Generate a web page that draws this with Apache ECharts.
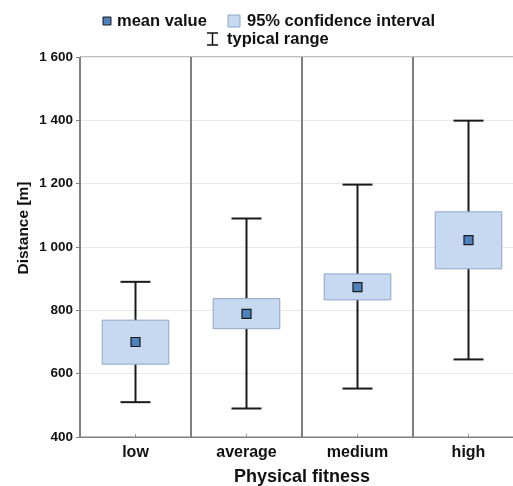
<!DOCTYPE html>
<html>
<head>
<meta charset="utf-8">
<script src="https://cdn.jsdelivr.net/npm/echarts@6/dist/echarts.min.js"></script>
<style>
html,body{margin:0;padding:0;background:#fff;}
#chart{width:513px;height:486px;}
</style>
</head>
<body>
<div id="chart"></div>
<script>
const categories = ['low', 'average', 'medium', 'high'];
const meanValues = [700, 789, 873, 1022];
const ciLow = [630, 742, 833, 931];
const ciHigh = [769, 837, 915, 1111];
const rangeLow = [510, 490, 553, 645];
const rangeHigh = [890, 1090, 1197, 1399];
const yTicks = [400, 600, 800, 1000, 1200, 1400, 1600];

const FONT = '"Liberation Sans", Arial, sans-serif';
const chart = echarts.init(document.getElementById('chart'));

const whiskerData = categories.map((c, i) => [i, rangeLow[i], rangeHigh[i]]);
const boxData = categories.map((c, i) => [i, ciLow[i], ciHigh[i]]);
const meanData = categories.map((c, i) => [i, meanValues[i]]);

function fmt(v) {
  return String(v).replace(/\B(?=(\d{3})+(?!\d))/g, ' ');
}

const option = {
  backgroundColor: '#fff',
  animation: false,
  grid: {
    left: 80, top: 57, width: 444, height: 380,
    outerBoundsMode: 'none',
    containLabel: false,
    show: true, borderColor: '#808080', borderWidth: 1, backgroundColor: 'transparent'
  },
  xAxis: {
    type: 'category',
    data: categories,
    name: 'Physical fitness',
    nameLocation: 'middle',
    nameGap: 31,
    nameMoveOverlap: false,
    nameTextStyle: { fontFamily: FONT, fontWeight: 'bold', fontSize: 18, color: '#111' },
    axisLine: { show: true, lineStyle: { color: '#808080', width: 1 } },
    axisTick: { show: true, alignWithLabel: true, inside: true, length: 3, lineStyle: { color: '#999' } },
    axisLabel: { fontFamily: FONT, fontWeight: 'bold', fontSize: 16, color: '#111', margin: 8 },
    splitLine: { show: true, interval: 0, lineStyle: { color: '#808080', width: 2 } }
  },
  yAxis: {
    type: 'value',
    min: 400, max: 1600, interval: 200,
    name: 'Distance [m]',
    nameLocation: 'middle',
    nameGap: 48,
    nameMoveOverlap: false,
    nameTextStyle: { fontFamily: FONT, fontWeight: 'bold', fontSize: 15.5, color: '#111', padding: [0, 0, 0, 38] },
    axisLine: { show: true, lineStyle: { color: '#808080', width: 1 } },
    axisTick: { show: true, length: 4, lineStyle: { color: '#808080' } },
    axisLabel: {
      fontFamily: FONT, fontWeight: 'bold', fontSize: 13.5, color: '#111', margin: 7,
      formatter: v => (yTicks.indexOf(v) >= 0 ? fmt(v) : '')
    },
    splitLine: { show: true, lineStyle: { color: '#e8e8e8', width: 1 } }
  },
  graphic: [
    { type: 'rect', shape: { x: 103, y: 17, width: 8, height: 8 },
      style: { fill: '#4f81bd', stroke: '#1a1a1a', lineWidth: 1 } },
    { type: 'text', x: 117, y: 21,
      style: { text: 'mean value', font: 'bold 16.5px ' + FONT, fill: '#111', verticalAlign: 'middle' } },
    { type: 'rect', shape: { x: 228, y: 15, width: 12, height: 12 },
      style: { fill: '#c6d9f1', stroke: '#8ea4c8', lineWidth: 1 } },
    { type: 'text', x: 247, y: 21,
      style: { text: '95% confidence interval', font: 'bold 16.5px ' + FONT, fill: '#111', verticalAlign: 'middle' } },
    { type: 'line', shape: { x1: 212.5, y1: 33, x2: 212.5, y2: 45 }, style: { stroke: '#111', lineWidth: 1.5 } },
    { type: 'line', shape: { x1: 207, y1: 33, x2: 218, y2: 33 }, style: { stroke: '#111', lineWidth: 1.5 } },
    { type: 'line', shape: { x1: 207, y1: 45, x2: 218, y2: 45 }, style: { stroke: '#111', lineWidth: 1.5 } },
    { type: 'text', x: 227, y: 39,
      style: { text: 'typical range', font: 'bold 16.5px ' + FONT, fill: '#111', verticalAlign: 'middle' } }
  ],
  series: [
    {
      type: 'custom',
      name: 'typical range',
      data: whiskerData,
      z: 2,
      renderItem: function (params, api) {
        const x = api.value(0);
        const lo = api.coord([x, api.value(1)]);
        const hi = api.coord([x, api.value(2)]);
        const half = api.size([1, 0])[0] * 0.135;
        const st = { stroke: '#1a1a1a', lineWidth: 2 };
        return {
          type: 'group',
          children: [
            { type: 'line', shape: { x1: lo[0], y1: lo[1], x2: hi[0], y2: hi[1] }, style: st },
            { type: 'line', shape: { x1: lo[0] - half, y1: lo[1], x2: lo[0] + half, y2: lo[1] }, style: st },
            { type: 'line', shape: { x1: hi[0] - half, y1: hi[1], x2: hi[0] + half, y2: hi[1] }, style: st }
          ]
        };
      }
    },
    {
      type: 'custom',
      name: '95% confidence interval',
      data: boxData,
      z: 3,
      renderItem: function (params, api) {
        const x = api.value(0);
        const lo = api.coord([x, api.value(1)]);
        const hi = api.coord([x, api.value(2)]);
        const w = api.size([1, 0])[0] * 0.6;
        return {
          type: 'rect',
          shape: { x: lo[0] - w / 2, y: hi[1], width: w, height: lo[1] - hi[1] },
          style: { fill: '#c6d9f1', stroke: '#8ea4c8', lineWidth: 1 }
        };
      }
    },
    {
      type: 'scatter',
      name: 'mean value',
      data: meanData,
      z: 4,
      symbol: 'rect',
      symbolSize: 9,
      itemStyle: { color: '#4f81bd', borderColor: '#1a1a1a', borderWidth: 1.2, opacity: 1 }
    }
  ]
};
chart.setOption(option);
</script>
</body>
</html>
